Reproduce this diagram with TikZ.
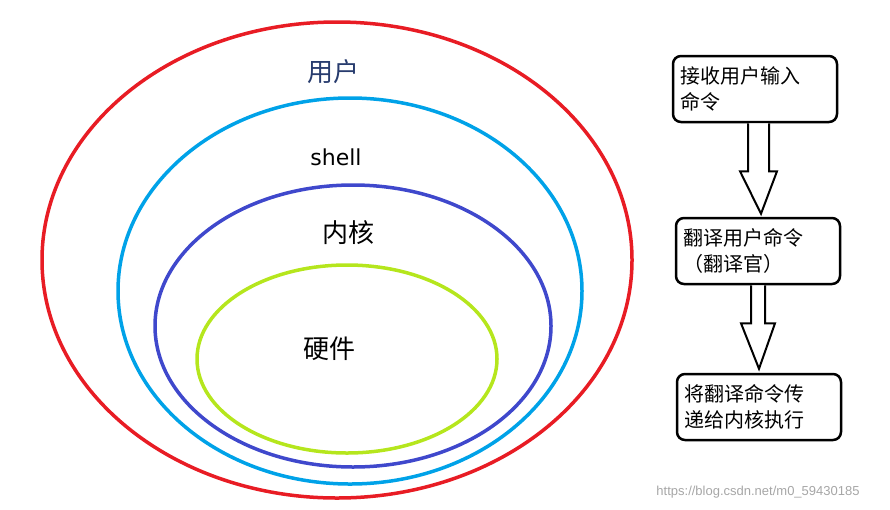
\documentclass[tikz,border=0pt]{standalone}
\usepackage{fontspec}
\newfontfamily\cjk{Noto Sans CJK SC}
\usetikzlibrary{calc}
\begin{document}
\begin{tikzpicture}[x=1pt,y=-1pt,
  ring/.style={line width=3.5pt},
  lbl/.style={font=\cjk\fontsize{26}{30}\selectfont},
  box/.style={draw,line width=2.5pt,rounded corners=8pt,minimum width=164pt,minimum height=66pt,text width=150pt,align=left,inner sep=4pt,font=\cjk\fontsize{20}{26}\selectfont},
  blk/.style={draw,line width=2pt,fill=white}]
\useasboundingbox (0,0) rectangle (890,509);
\draw[ring,color={rgb,255:red,232;green,28;blue,36}] (337,260) ellipse [x radius=295,y radius=238];
\draw[ring,color={rgb,255:red,0;green,162;blue,232}] (350,291) ellipse [x radius=232,y radius=193];
\draw[ring,color={rgb,255:red,63;green,72;blue,204}] (353,326) ellipse [x radius=198,y radius=141];
\draw[ring,color={rgb,255:red,181;green,230;blue,29}] (347,359) ellipse [x radius=150,y radius=94];
\node[lbl,color={rgb,255:red,40;green,60;blue,110}] (u) at (333,72) {用户};
\node[font=\fontspec{DejaVu Sans}\fontsize{22}{26}\selectfont] (s) at (336,157) {shell};
\node[lbl] (k) at (348,233) {内核};
\node[lbl] (h) at (329,349) {硬件};
\node[box] (b1) at (755,89) {接收用户输入\\命令};
\node[box] (b2) at (758,251) {翻译用户命令\\（翻译官）};
\node[box] (b3) at (759,407) {将翻译命令传\\递给内核执行};
\draw[blk] ($(b1.south)+(-7,0)$) -- ++(0,48) -- ++(-8,0) -- ($(b2.north)+(3,-3)$) -- ($(b1.south)+(22,48)$) -- ++(-8,0) -- ($(b1.south)+(14,0)$);
\draw[blk] ($(b2.south)+(-7,0)$) -- ++(0,38) -- ++(-10,0) -- ($(b3.north)+(0,-4)$) -- ($(b2.south)+(17,38)$) -- ++(-10,0) -- ($(b2.south)+(7,0)$);
\node[font=\fontspec{Liberation Sans}\fontsize{13}{15}\selectfont,color=gray!70] (w) at (758,492) {https://blog.csdn.net/m0\_59430185};
\end{tikzpicture}
\end{document}
